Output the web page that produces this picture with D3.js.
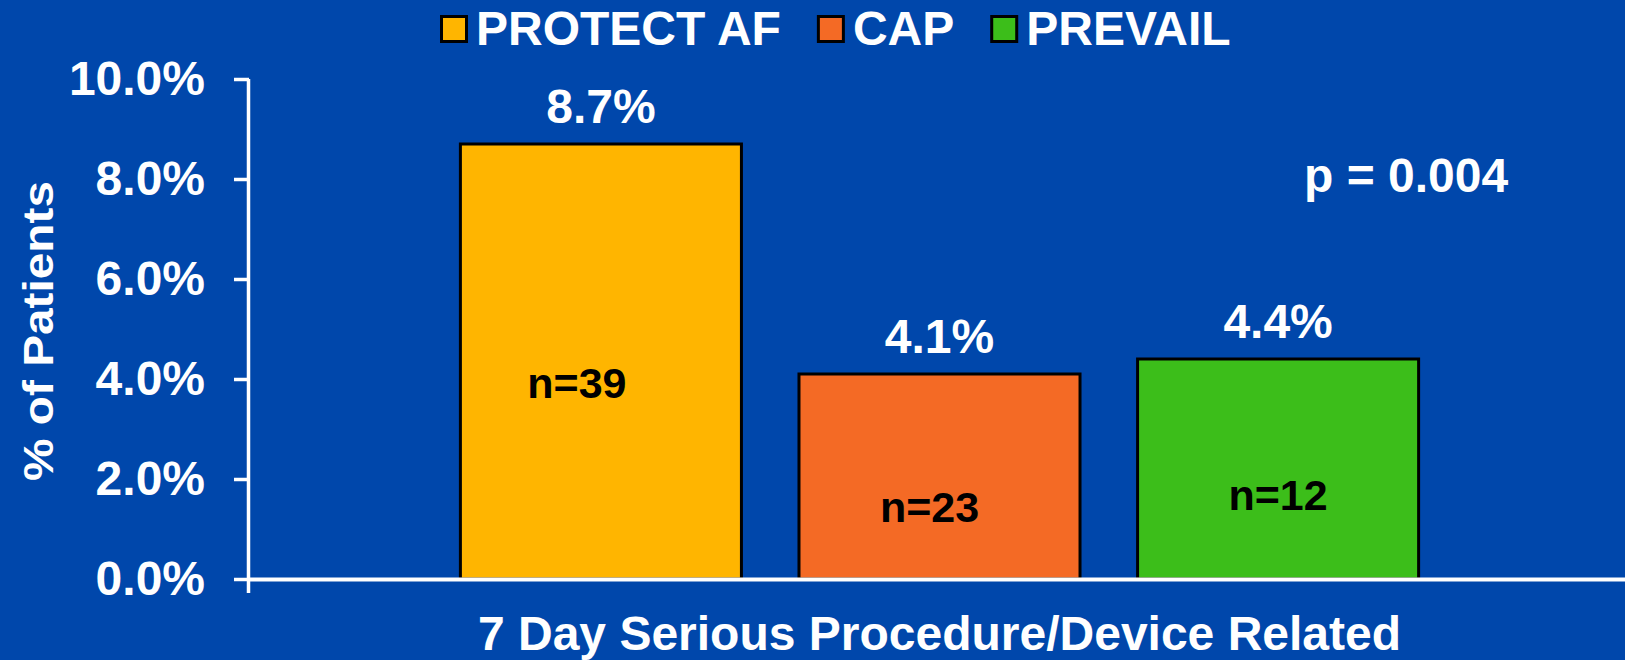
<!DOCTYPE html>
<html>
<head>
<meta charset="utf-8">
<script src="https://cdn.jsdelivr.net/npm/d3@7"></script>
<style>
  html, body { margin: 0; padding: 0; background: #0047AB; overflow: hidden; }
  svg { display: block; }
  text { font-family: "Liberation Sans", Arial, sans-serif; font-weight: bold; }
</style>
</head>
<body>
<div id="chart"></div>
<script>
// chart data
const categories = ["7 Day Serious Procedure/Device Related"];
const series = ["PROTECT AF", "CAP", "PREVAIL"];
const values = [8.7, 4.1, 4.4];
const counts = [39, 23, 12];
const yTicks = [0, 2, 4, 6, 8, 10];
const pText = "p = 0.004";

const colors = ["#FFB500", "#F46A25", "#3CBE1A"];
// the n= labels were placed by hand in the original: x shift (px), height (% units)
const nShift = [-24, -10, 0];
const nLevel = [3.62, 1.14, 1.38];

// SVG CONVENTIONS
const width = 1625, height = 660;
const margin = { top: 79, right: 0, bottom: 81, left: 249 };

const svg = d3.select("#chart").append("svg")
    .attr("width", width)
    .attr("height", height);

svg.append("rect")
    .attr("width", width)
    .attr("height", height)
    .attr("fill", "#0047AB");

const y = d3.scaleLinear()
    .domain([0, 10])
    .range([height - margin.bottom, margin.top]);

const x0 = d3.scaleBand()
    .domain(categories)
    .range([margin.left, width - margin.right])
    .paddingInner(0)
    .paddingOuter(0.218)
    .align(0.506);

const x1 = d3.scaleBand()
    .domain(series)
    .range([0, x0.bandwidth()])
    .paddingInner(0.17)
    .paddingOuter(0);

const bars = series.map((s, i) => ({
    cat: categories[0], name: s, value: values[i], n: counts[i],
    color: colors[i], dx: nShift[i], nAt: nLevel[i]
}));

// bars
svg.append("g").selectAll("rect")
    .data(bars)
    .enter()
    .append("rect")
    .attr("x", d => x0(d.cat) + x1(d.name))
    .attr("y", d => y(d.value))
    .attr("width", x1.bandwidth())
    .attr("height", d => y(0) - y(d.value))
    .attr("fill", d => d.color)
    .attr("stroke", "#000")
    .attr("stroke-width", 3);

// value labels above bars
svg.append("g").selectAll("text")
    .data(bars)
    .enter()
    .append("text")
    .attr("x", d => x0(d.cat) + x1(d.name) + x1.bandwidth() / 2)
    .attr("y", d => y(d.value) - 21)
    .attr("text-anchor", "middle")
    .attr("fill", "#fff")
    .style("font-size", "48px")
    .text(d => d.value.toFixed(1) + "%");

// n= labels inside bars
svg.append("g").selectAll("text")
    .data(bars)
    .enter()
    .append("text")
    .attr("x", d => x0(d.cat) + x1(d.name) + x1.bandwidth() / 2 + d.dx)
    .attr("y", d => y(d.nAt))
    .attr("text-anchor", "middle")
    .attr("fill", "#000")
    .style("font-size", "43px")
    .text(d => "n=" + d.n);

// y axis
const yAxis = svg.append("g")
    .attr("transform", "translate(" + margin.left + ",0)")
    .call(d3.axisLeft(y)
        .tickValues(yTicks)
        .tickFormat(d => d.toFixed(1) + "%")
        .tickSize(15)
        .tickPadding(29));
yAxis.select(".domain").remove();
yAxis.selectAll("line")
    .attr("stroke", "#fff")
    .attr("stroke-width", 3.5);
yAxis.selectAll("text")
    .attr("fill", "#fff")
    .style("font-size", "48px")
    .style("font-family", "'Liberation Sans', Arial, sans-serif");
yAxis.append("line")
    .attr("x1", -0.5).attr("x2", -0.5)
    .attr("y1", y(10))
    .attr("y2", y(0) + 14)
    .attr("stroke", "#fff")
    .attr("stroke-width", 3.5);

// x axis (category name sits under the line)
const xAxis = svg.append("g")
    .attr("transform", "translate(0," + y(0) + ")")
    .call(d3.axisBottom(x0)
        .tickSize(0)
        .tickSizeOuter(0)
        .tickPadding(37));
xAxis.select(".domain")
    .attr("stroke", "#fff")
    .attr("stroke-width", 4);
xAxis.selectAll("text")
    .attr("fill", "#fff")
    .style("font-size", "48px")
    .style("font-family", "'Liberation Sans', Arial, sans-serif");

// y title
svg.append("text")
    .attr("transform", "translate(53," + ((y(0) + y(10)) / 2 + 2) + ") rotate(-90)")
    .attr("text-anchor", "middle")
    .attr("fill", "#fff")
    .attr("textLength", 300)
    .attr("lengthAdjust", "spacingAndGlyphs")
    .style("font-size", "42px")
    .text("% of Patients");

// p value
svg.append("text")
    .attr("x", 1304)
    .attr("y", 192)
    .attr("fill", "#fff")
    .style("font-size", "48px")
    .text(pText);

// legend
const legend = svg.append("g");
let lx = 440;
bars.forEach(function (d) {
    const g = legend.append("g").attr("transform", "translate(" + lx + ",0)");
    g.append("rect")
        .attr("x", 1.5).attr("y", 16.5)
        .attr("width", 25).attr("height", 25)
        .attr("fill", d.color)
        .attr("stroke", "#000")
        .attr("stroke-width", 3);
    const t = g.append("text")
        .attr("x", 36)
        .attr("y", 45)
        .attr("fill", "#fff")
        .style("font-size", "48px")
        .text(d.name);
    lx += 36 + t.node().getComputedTextLength() + 36;
});
</script>
</body>
</html>
